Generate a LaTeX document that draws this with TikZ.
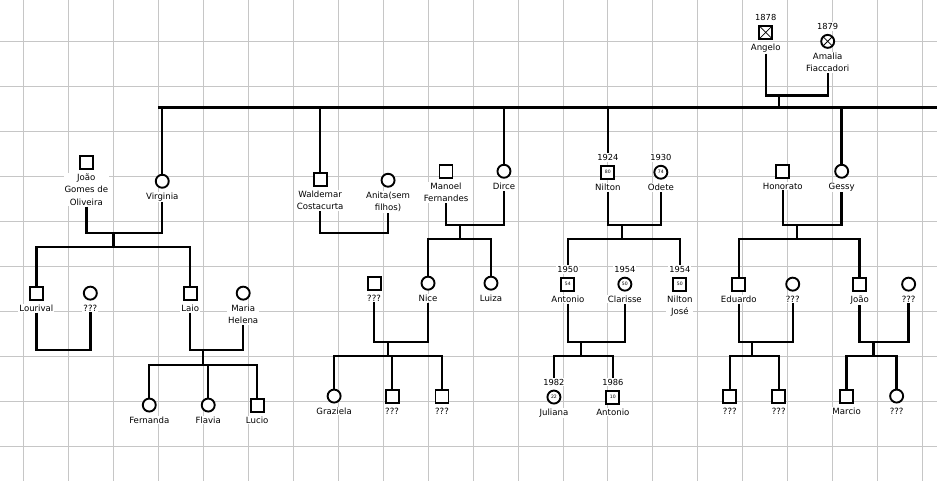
\documentclass[tikz,border=0pt]{standalone}
\usepackage{fontspec}
\setmainfont{DejaVu Sans}
\usetikzlibrary{positioning}

\begin{document}
\begin{tikzpicture}[x=1pt,y=-1pt,
    male/.style={draw,line width=1.9pt,fill=white,minimum size=13pt,inner sep=0pt,font=\fontsize{4.6}{5}\selectfont},
    female/.style={male,circle},
    dead/.style={path picture={\draw[line width=0.8pt] (path picture bounding box.north west) -- (path picture bounding box.south east) (path picture bounding box.south west) -- (path picture bounding box.north east);}},
    lbl/.style={fill=white,inner sep=1pt,align=center,font=\fontsize{8.6}{12.4}\selectfont},
    year/.style={fill=white,inner sep=1pt,font=\fontsize{8.3}{9}\selectfont},
    link/.style={line width=2.4pt},
    gridline/.style={gray!45,line width=0.8pt}]

  % paper
  \fill[white] (0,0) rectangle (937,481);
  \foreach \gx in {23,68,...,923} \draw[gridline] (\gx,0) -- (\gx,481);
  \foreach \gy in {41,86,...,446} \draw[gridline] (0,\gy) -- (937,\gy);
  \useasboundingbox (0,0) rectangle (937,481);

  % Angelo + Amalia
  \node[male,dead] (angelo) at (766,32) {};
  \node[year,above=3pt of angelo] {1878};
  \node[lbl,below=3pt of angelo] (angeloL) {Angelo};
  \node[female,dead] (amalia) at (828,41) {};
  \node[year,above=3pt of amalia] {1879};
  \node[lbl,below=3pt of amalia] (amaliaL) {Amalia\\Fiaccadori};
  \coordinate (top) at (779,95);
  \coordinate (mainL) at (158,107);
  \coordinate (mainR) at (937,107);

  % Virginia
  \node[male] (joao) at (86,162) {};
  \node[lbl,below=3pt of joao] (joaoL) {João\\Gomes de\\Oliveira};
  \node[female] (virginia) at (162,181) {};
  \node[lbl,below=3pt of virginia] (virginiaL) {Virginia};
  \coordinate (c1) at (113,233);
  \coordinate (s1) at (113,247);
  \node[male] (lourival) at (36,293) {};
  \node[lbl,below=3pt of lourival] (lourivalL) {Lourival};
  \node[female] (lourivalw) at (90,293) {};
  \node[lbl,below=3pt of lourivalw] (lourivalwL) {???};
  \coordinate (c2) at (63,350);
  \node[male] (laio) at (190,293) {};
  \node[lbl,below=3pt of laio] (laioL) {Laio};
  \node[female] (maria) at (243,293) {};
  \node[lbl,below=3pt of maria] (mariaL) {Maria\\Helena};
  \coordinate (c3) at (203,350);
  \coordinate (s3) at (203,365);
  \node[female] (fernanda) at (149,405) {};
  \node[lbl,below=3pt of fernanda] {Fernanda};
  \node[female] (flavia) at (208,405) {};
  \node[lbl,below=3pt of flavia] {Flavia};
  \node[male] (lucio) at (257,405) {};
  \node[lbl,below=3pt of lucio] {Lucio};

  % Waldemar
  \node[male] (waldemar) at (320,179) {};
  \node[lbl,below=3pt of waldemar] (waldemarL) {Waldemar\\Costacurta};
  \node[female] (anita) at (388,180) {};
  \node[lbl,below=3pt of anita] (anitaL) {Anita(sem\\filhos)};
  \coordinate (c4) at (354,233);

  % Dirce
  \node[male] (manoel) at (446,171) {};
  \node[lbl,below=3pt of manoel] (manoelL) {Manoel\\Fernandes};
  \node[female] (dirce) at (504,171) {};
  \node[lbl,below=3pt of dirce] (dirceL) {Dirce};
  \coordinate (c5) at (460,225);
  \coordinate (s5) at (460,239);
  \node[male] (nicew) at (374,283) {};
  \node[lbl,below=3pt of nicew] (nicewL) {???};
  \node[female] (nice) at (428,283) {};
  \node[lbl,below=3pt of nice] (niceL) {Nice};
  \node[female] (luiza) at (491,283) {};
  \node[lbl,below=3pt of luiza] {Luiza};
  \coordinate (c6) at (388,342);
  \coordinate (s6) at (388,356);
  \node[female] (graziela) at (334,396) {};
  \node[lbl,below=3pt of graziela] {Graziela};
  \node[male] (nice2) at (392,396) {};
  \node[lbl,below=3pt of nice2] {???};
  \node[male] (nice3) at (442,396) {};
  \node[lbl,below=3pt of nice3] {???};

  % Nilton
  \node[male] (nilton) at (608,172) {80};
  \node[year,above=3pt of nilton] (niltonY) {1924};
  \node[lbl,below=3pt of nilton] (niltonL) {Nilton};
  \node[female] (odete) at (661,172) {74};
  \node[year,above=3pt of odete] {1930};
  \node[lbl,below=3pt of odete] (odeteL) {Odete};
  \coordinate (c7) at (622,225);
  \coordinate (s7) at (622,239);
  \node[male] (antonio) at (568,284) {54};
  \node[year,above=3pt of antonio] (antonioY) {1950};
  \node[lbl,below=3pt of antonio] (antonioL) {Antonio};
  \node[female] (clarisse) at (625,284) {50};
  \node[year,above=3pt of clarisse] {1954};
  \node[lbl,below=3pt of clarisse] (clarisseL) {Clarisse};
  \node[male] (niltonj) at (680,284) {50};
  \node[year,above=3pt of niltonj] (niltonjY) {1954};
  \node[lbl,below=3pt of niltonj] {Nilton\\José};
  \coordinate (c8) at (581,342);
  \coordinate (s8) at (581,356);
  \node[female] (juliana) at (554,397) {22};
  \node[year,above=3pt of juliana] (julianaY) {1982};
  \node[lbl,below=3pt of juliana] {Juliana};
  \node[male] (antonio2) at (613,397) {10};
  \node[year,above=3pt of antonio2] (antonio2Y) {1986};
  \node[lbl,below=3pt of antonio2] {Antonio};

  % Gessy
  \node[male] (honorato) at (783,171) {};
  \node[lbl,below=3pt of honorato] (honoratoL) {Honorato};
  \node[female] (gessy) at (842,171) {};
  \node[lbl,below=3pt of gessy] (gessyL) {Gessy};
  \coordinate (c9) at (797,225);
  \coordinate (s9) at (797,239);
  \node[male] (eduardo) at (739,284) {};
  \node[lbl,below=3pt of eduardo] (eduardoL) {Eduardo};
  \node[female] (eduardow) at (793,284) {};
  \node[lbl,below=3pt of eduardow] (eduardowL) {???};
  \node[male] (joao2) at (860,284) {};
  \node[lbl,below=3pt of joao2] (joao2L) {João};
  \node[female] (joao2w) at (909,284) {};
  \node[lbl,below=3pt of joao2w] (joao2wL) {???};
  \coordinate (c10) at (752,342);
  \coordinate (s10) at (752,356);
  \node[male] (edu1) at (730,396) {};
  \node[lbl,below=3pt of edu1] {???};
  \node[male] (edu2) at (779,396) {};
  \node[lbl,below=3pt of edu2] {???};
  \coordinate (c11) at (874,342);
  \coordinate (s11) at (874,356);
  \node[male] (marcio) at (847,396) {};
  \node[lbl,below=3pt of marcio] {Marcio};
  \node[female] (joao22) at (897,396) {};
  \node[lbl,below=3pt of joao22] {???};

  % connectors
  \draw[link] (angeloL) |- (top) -| (amaliaL);
  \draw[link] (top) -- (top |- mainL);
  \draw[link] (mainL) -- (mainR);
  \draw[link] (virginia) -- (virginia |- mainL);
  \draw[link] (waldemar) -- (waldemar |- mainL);
  \draw[link] (dirce) -- (dirce |- mainL);
  \draw[link] (niltonY) -- (niltonY |- mainL);
  \draw[link] (gessy) -- (gessy |- mainL);

  \draw[link] (joaoL) |- (c1) -| (virginiaL);
  \draw[link] (c1) -- (s1);
  \draw[link] (lourival) |- (s1) -| (laio);
  \draw[link] (lourivalL) |- (c2) -| (lourivalwL);
  \draw[link] (laioL) |- (c3) -| (mariaL);
  \draw[link] (c3) -- (s3);
  \draw[link] (fernanda) |- (s3) -| (lucio);
  \draw[link] (flavia) -- (flavia |- s3);

  \draw[link] (waldemarL) |- (c4) -| (anitaL);

  \draw[link] (manoelL) |- (c5) -| (dirceL);
  \draw[link] (c5) -- (s5);
  \draw[link] (nice) |- (s5) -| (luiza);
  \draw[link] (nicewL) |- (c6) -| (niceL);
  \draw[link] (c6) -- (s6);
  \draw[link] (graziela) |- (s6) -| (nice3);
  \draw[link] (nice2) -- (nice2 |- s6);

  \draw[link] (niltonL) |- (c7) -| (odeteL);
  \draw[link] (c7) -- (s7);
  \draw[link] (antonioY) |- (s7) -| (niltonjY);
  \draw[link] (antonioL) |- (c8) -| (clarisseL);
  \draw[link] (c8) -- (s8);
  \draw[link] (julianaY) |- (s8) -| (antonio2Y);

  \draw[link] (honoratoL) |- (c9) -| (gessyL);
  \draw[link] (c9) -- (s9);
  \draw[link] (eduardo) |- (s9) -| (joao2);
  \draw[link] (eduardoL) |- (c10) -| (eduardowL);
  \draw[link] (c10) -- (s10);
  \draw[link] (edu1) |- (s10) -| (edu2);
  \draw[link] (joao2L) |- (c11) -| (joao2wL);
  \draw[link] (c11) -- (s11);
  \draw[link] (marcio) |- (s11) -| (joao22);
\end{tikzpicture}
\end{document}
